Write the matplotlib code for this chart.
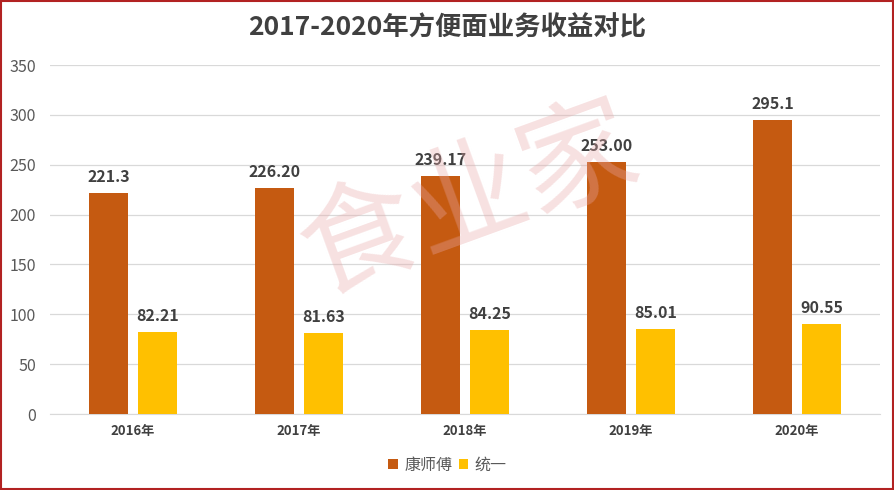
import matplotlib
matplotlib.use("Agg")
import matplotlib.pyplot as plt
from matplotlib.patches import Rectangle
import numpy as np

plt.rcParams['font.family'] = ['Noto Sans CJK SC', 'DejaVu Sans']

years = ["2016年", "2017年", "2018年", "2019年", "2020年"]
ksf = [221.3, 226.20, 239.17, 253.00, 295.1]
ksf_labels = ["221.3", "226.20", "239.17", "253.00", "295.1"]
uni = [82.21, 81.63, 84.25, 85.01, 90.55]
uni_labels = ["82.21", "81.63", "84.25", "85.01", "90.55"]
series_names = ["康师傅", "统一"]
title = "2017-2020年方便面业务收益对比"

c1 = "#C55A11"
c2 = "#FFC000"

fig = plt.figure(figsize=(8.95, 4.9), dpi=100)
ax = fig.add_axes([50/895, 1-414/490, 830/895, 349/490])

x = np.arange(len(years))
w = 0.23
off = 0.148
b1 = ax.bar(x - off, ksf, w, color=c1, label=series_names[0], zorder=3)
b2 = ax.bar(x + off, uni, w, color=c2, label=series_names[1], zorder=3)

for rect, lab in zip(b1, ksf_labels):
    ax.text(rect.get_x() + rect.get_width()/2, rect.get_height() + 8, lab,
            ha='center', va='bottom', fontsize=11.5, fontweight='bold', color='#404040', zorder=4)
for rect, lab in zip(b2, uni_labels):
    ax.text(rect.get_x() + rect.get_width()/2, rect.get_height() + 8, lab,
            ha='center', va='bottom', fontsize=11.5, fontweight='bold', color='#404040', zorder=4)

ax.set_xlim(-0.5, len(years) - 0.5)
ax.set_ylim(0, 350)
ax.set_yticks(np.arange(0, 351, 50))
ax.set_xticks(x)
ax.set_xticklabels(years, fontsize=9.5, fontweight='bold', color='#404040')
ax.tick_params(axis='y', labelsize=11.5, labelcolor='#595959', length=0, pad=10)
ax.tick_params(axis='x', length=0, pad=7)
ax.grid(axis='y', color='#D9D9D9', linewidth=0.9, zorder=0)
for s in ['top', 'right', 'left']:
    ax.spines[s].set_visible(False)
ax.spines['bottom'].set_color('#D9D9D9')

fig.text(0.5, 1-28/490, title, ha='center', va='center', fontsize=19,
         fontweight='bold', color='#404040')

# watermark
fig.text(470/895, 1-202/490, "食业家", ha='center', va='center', fontsize=84,
         color='#E8A8A8', alpha=0.35, rotation=20, zorder=10)

leg = fig.legend(loc='center', bbox_to_anchor=(0.5, 1-465/490), ncol=2, frameon=False,
                 fontsize=11.5, handlelength=0.6, handleheight=0.6, handletextpad=0.4,
                 columnspacing=0.4, labelcolor='#595959')

fig.add_artist(Rectangle((0.001, 0.002), 0.997, 0.996, transform=fig.transFigure,
                         fill=False, edgecolor='#B22222', linewidth=1.5))

fig.savefig("out.png", dpi=100)
